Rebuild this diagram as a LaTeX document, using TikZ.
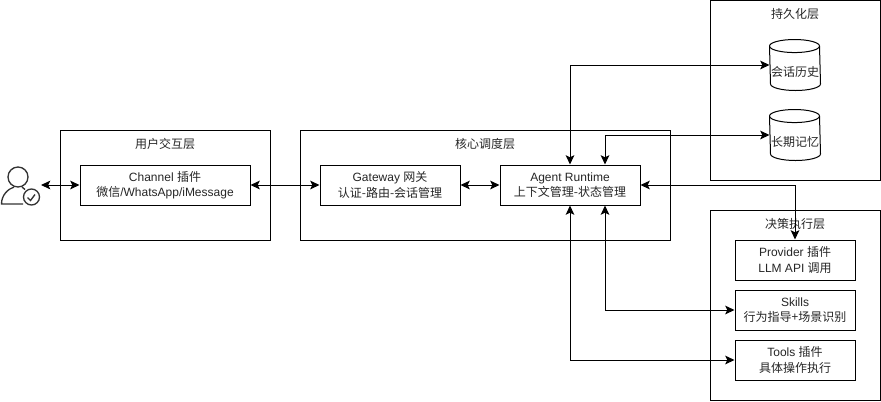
\documentclass[tikz,border=0pt]{standalone}
\usepackage{fontspec}
\setmainfont{Liberation Sans}
\newfontfamily\cjk{Noto Sans CJK SC}
\usetikzlibrary{arrows.meta}
\tikzset{
  itembox/.style={draw, fill=white, align=center, font=\fontsize{9pt}{11.6pt}\selectfont, text=black!85, inner sep=0pt},
  layerbox/.style={draw, inner sep=0pt},
  layertitle/.style={font=\fontsize{9pt}{11pt}\cjk, text=black!85},
  dbcyl/.style={minimum width=37.5pt, minimum height=37.5pt, inner sep=0pt, font=\fontsize{9pt}{11pt}\cjk, text=black!85},
  biarrow/.style={{Stealth[length=7pt,width=6.5pt,inset=1.6pt]}-{Stealth[length=7pt,width=6.5pt,inset=1.6pt]}, line width=0.75pt},
}
\newcommand{\zh}[1]{{\cjk #1}}
\newcommand{\dbdraw}[1]{\draw ([yshift=-4.9pt]#1.north west) arc[start angle=180, end angle=0, x radius=18.75pt, y radius=4.9pt] -- ([yshift=4.9pt]#1.south east) arc[start angle=0, end angle=-180, x radius=18.75pt, y radius=4.9pt] -- cycle;
  \draw ([yshift=-4.9pt]#1.north west) arc[start angle=180, end angle=360, x radius=18.75pt, y radius=4.9pt];}
\begin{document}
\begin{tikzpicture}[x=0.75pt,y=-0.75pt,line width=0.75pt]
  \useasboundingbox (0,0) rectangle (881,401);
  %livelli
  \node[layerbox, minimum width=157.5pt, minimum height=82.5pt] (userlayer) at (165,185) {};
  \node[layerbox, minimum width=277.5pt, minimum height=82.5pt] (corelayer) at (485,185) {};
  \node[layerbox, minimum width=127.5pt, minimum height=135pt] (storelayer) at (795,90) {};
  \node[layerbox, minimum width=127.5pt, minimum height=142.5pt] (execlayer) at (795,305) {};
  \node[layertitle] (usertitle) at (165,144) {用户交互层};
  \node[layertitle] (coretitle) at (485,144) {核心调度层};
  \node[layertitle] (storetitle) at (795,14) {持久化层};
  \node[layertitle] (exectitle) at (795,224) {决策执行层};
  %moduli
  \node[itembox, minimum width=127.5pt, minimum height=30pt] (channel) at (165,185) {Channel \zh{插件}\\\zh{微信}/WhatsApp/iMessage};
  \node[itembox, minimum width=105pt, minimum height=30pt] (gateway) at (390,185) {Gateway \zh{网关}\\\zh{认证-路由-会话管理}};
  \node[itembox, minimum width=105pt, minimum height=30pt] (agent) at (570,185) {Agent Runtime\\\zh{上下文管理-状态管理}};
  \node[itembox, minimum width=90pt, minimum height=30pt] (provider) at (795,260) {Provider \zh{插件}\\LLM API \zh{调用}};
  \node[itembox, minimum width=90pt, minimum height=30pt] (skills) at (795,310) {Skills\\\zh{行为指导+场景识别}};
  \node[itembox, minimum width=90pt, minimum height=30pt] (tools) at (795,360) {Tools \zh{插件}\\\zh{具体操作执行}};
  %archivi
  \node[dbcyl] (history) at (795,65) {};
  \node[dbcyl] (memory) at (795,135) {};
  \dbdraw{history}
  \dbdraw{memory}
  \node[dbcyl] (historytext) at (795,72) {会话历史};
  \node[dbcyl] (memorytext) at (795,142) {长期记忆};
  %utente
  \coordinate (userport) at (41,185);
  \begin{scope}[draw=black!80, line width=1pt]
    \draw (18,177) circle (10);
    \draw (23,204) -- (1.5,204) .. controls (1.5,195) and (8,189) .. (14,187);
    \draw (22,187) -- (25,189.5);
    \draw (31.5,197) circle (8);
    \draw (27.5,197.5) -- (30.5,200.5) -- (35,194.5);
  \end{scope}
  %collegamenti
  \draw[biarrow] (userport) -- (channel.west);
  \draw[biarrow] (channel.east) -- (gateway.west);
  \draw[biarrow] (gateway.east) -- (agent.west);
  \draw[biarrow] (agent.north) |- (history.west);
  \draw[biarrow] ([xshift=26.25pt]agent.north) |- (memory.west);
  \draw[biarrow] (agent.east) -| (provider.north);
  \draw[biarrow] ([xshift=26.25pt]agent.south) |- (skills.west);
  \draw[biarrow] (agent.south) |- (tools.west);
\end{tikzpicture}
\end{document}
